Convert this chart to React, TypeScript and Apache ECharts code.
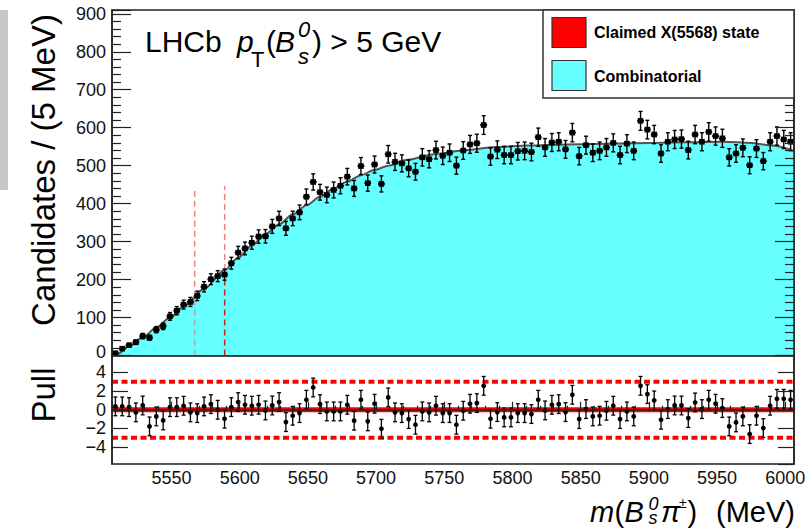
import React, { useEffect, useRef } from 'react';
import * as echarts from 'echarts';

// Histogram binning: threshold m(Bs0)+m(pi) up to +500 MeV, 5 MeV bins
const MASS_MIN = 5506.4;
const MASS_MAX = 6006.4;
const BIN_WIDTH = 5;

// Candidates per 5 MeV bin
const candidates = [
  6, 18, 27, 35, 51, 47, 68, 77, 103, 118,
  134, 141, 157, 181, 201, 209, 213, 243, 271, 282,
  297, 313, 314, 340, 361, 335, 361, 377, 418, 457,
  430, 423, 436, 447, 471, 440, 499, 454, 503, 452,
  530, 510, 506, 493, 484, 522, 517, 541, 526, 534,
  500, 540, 556, 559, 607, 524, 542, 528, 528, 538,
  539, 536, 575, 548, 561, 563, 543, 587, 525, 554,
  534, 539, 548, 560, 528, 558, 539, 618, 595, 582,
  532, 563, 569, 570, 541, 582, 563, 589, 578, 572,
  522, 532, 547, 501, 545, 512, 563, 578, 569, 563,
];

// Pull per bin
const pulls = [
  0.36, 0.36, 0.28, -0.28, 0.46, -1.78, -0.71, -1.14, 0.28, 0.28,
  0.43, -0.28, -0.36, 0.36, 0.6, 0.0, -0.96, 0.28, 0.82, 0.53,
  0.43, 0.53, -0.07, 0.46, 0.82, -1.32, -0.64, -0.36, 1.07, 2.38,
  0.6, -0.18, -0.18, -0.18, 0.53, -1.17, 1.07, -1.24, 0.64, -2.03,
  1.32, -0.28, -0.36, -1.0, -1.6, -0.18, -0.28, 0.43, -0.36, -0.36,
  -1.6, -0.11, 0.64, 0.71, 2.56, -0.96, -0.25, -0.82, -0.82, -0.36,
  -0.36, -0.46, 1.07, -0.07, 0.53, 0.6, -0.25, 1.6, -1.0, 0.07,
  -0.71, -0.64, -0.11, 0.43, -1.0, -0.18, -0.71, 2.56, 1.67, 1.0,
  -1.07, 0.07, 0.46, 0.46, -0.89, 0.78, 0.07, 1.07, 0.64, 0.18,
  -1.78, -1.35, -0.71, -2.6, -0.64, -1.96, 0.43, 1.17, 1.17, 1.07,
];
const PULL_ERROR = 1;

// Combinatorial fit curve
const fitMass = [5506.4, 5510, 5519, 5529, 5539, 5549, 5559, 5574, 5589, 5599, 5609, 5619, 5629, 5639, 5649, 5659, 5669, 5679, 5689, 5699, 5709, 5722, 5744, 5763, 5788, 5812, 5840, 5870, 5900, 5930, 5955, 5975, 5990, 6006.4];
const fitValue = [0, 3, 25, 48, 74, 100, 129, 176, 225, 258, 290, 320, 346, 372, 396, 418, 440, 458, 475, 489, 500, 515, 531, 540, 549, 553, 556, 558, 560, 562, 563, 560, 553, 539];

// Claimed X(5568) window markers
const claimedLineMass = [5567, 5589];
const claimedLineTop = [440, 447];
const claimedLineCross = [155, 225];

// Pull reference levels
const pullZero = 0;
const pullBand = [3, -3];

const FONT = '"Liberation Sans", Arial, Helvetica, sans-serif';
const AXIS = '#222';
const TXT = '#111';

function buildOption() {
  const binCenters = candidates.map((_, i) => MASS_MIN + BIN_WIDTH * (i + 0.5));
  const dataPoints = candidates.map((v, i) => [binCenters[i], v, Math.sqrt(v)]);
  const pullPoints = pulls.map((v, i) => [binCenters[i], v, PULL_ERROR]);

  const upperRender = (params: any, api: any) => {
    const x = api.value(0), y = api.value(1), e = api.value(2);
    const c = api.coord([x, y]);
    const t = api.coord([x, y + e]);
    const b = api.coord([x, y - e]);
    const l = api.coord([x - BIN_WIDTH / 2, y]);
    const r = api.coord([x + BIN_WIDTH / 2, y]);
    const st = { stroke: '#000', lineWidth: 1.4 };
    return {
      type: 'group',
      children: [
        { type: 'line', shape: { x1: c[0], y1: t[1], x2: c[0], y2: b[1] }, style: st },
        { type: 'line', shape: { x1: c[0] - 2, y1: t[1], x2: c[0] + 2, y2: t[1] }, style: st },
        { type: 'line', shape: { x1: c[0] - 2, y1: b[1], x2: c[0] + 2, y2: b[1] }, style: st },
        { type: 'line', shape: { x1: l[0], y1: c[1], x2: r[0], y2: c[1] }, style: { stroke: '#000', lineWidth: 2 } },
        { type: 'rect', shape: { x: c[0] - 2.8, y: c[1] - 2.8, width: 5.6, height: 5.6 }, style: { fill: '#000' } },
      ],
    };
  };

  const pullRender = (params: any, api: any) => {
    const x = api.value(0), y = api.value(1), e = api.value(2);
    const c = api.coord([x, y]);
    const t = api.coord([x, y + e]);
    const b = api.coord([x, y - e]);
    const st = { stroke: '#000', lineWidth: 1.3 };
    return {
      type: 'group',
      children: [
        { type: 'line', shape: { x1: c[0], y1: t[1], x2: c[0], y2: b[1] }, style: st },
        { type: 'line', shape: { x1: c[0] - 2, y1: t[1], x2: c[0] + 2, y2: t[1] }, style: st },
        { type: 'line', shape: { x1: c[0] - 2, y1: b[1], x2: c[0] + 2, y2: b[1] }, style: st },
        { type: 'circle', shape: { cx: c[0], cy: c[1], r: 2.4 }, style: { fill: '#000' } },
      ],
    };
  };

  const vLines: any[] = [];
  claimedLineMass.forEach((m, i) => {
    vLines.push({
      type: 'line', xAxisIndex: 0, yAxisIndex: 0, z: 4, silent: true, showSymbol: false,
      data: [[m, claimedLineCross[i]], [m, claimedLineTop[i]]],
      lineStyle: { color: '#f06060', width: 1.5, type: [6, 4], opacity: 0.8 },
    });
    vLines.push({
      type: 'line', xAxisIndex: 0, yAxisIndex: 0, z: 4, silent: true, showSymbol: false,
      data: [[m, 0], [m, claimedLineCross[i]]],
      lineStyle: { color: i === 0 ? '#a8a8a8' : '#c02020', width: 1.5, type: [6, 4] },
    });
  });

  const tickStyle = { color: AXIS, width: 1.2 };
  const labelBase = { fontFamily: FONT, fontSize: 18, color: TXT, lineHeight: 15 };
  const minus = (v: number) => (v < 0 ? '\u2212' + Math.abs(v) : String(v));

  const text = (t: string, x: number, y: number, size: number, opts: any = {}) => ({
    type: 'text', x, y, z: 20,
    style: {
      text: t, fill: '#000',
      font: `${opts.italic ? 'italic ' : ''}${opts.bold ? 'bold ' : ''}${size}px ${FONT}`,
      align: opts.align || 'left', verticalAlign: 'middle',
      ...(opts.lineHeight ? { lineHeight: opts.lineHeight } : {}),
    },
    ...(opts.rotation ? { rotation: opts.rotation } : {}),
  });

  return {
    animation: false,
    textStyle: { fontFamily: FONT },
    grid: [
      { left: 112, top: 10, width: 682, height: 345.5, show: true, borderColor: AXIS, borderWidth: 1.5, backgroundColor: '#fff' },
      { left: 112, top: 355.5, width: 682, height: 108.5, show: true, borderColor: AXIS, borderWidth: 1.5, backgroundColor: '#fff' },
    ],
    xAxis: [
      {
        gridIndex: 0, type: 'value', min: MASS_MIN, max: MASS_MAX, splitNumber: 10, z: 10,
        axisLine: { show: true, lineStyle: { color: AXIS, width: 1.5 } },
        axisTick: { show: false }, axisLabel: { show: false }, splitLine: { show: false },
      },
      {
        gridIndex: 1, type: 'value', min: MASS_MIN, max: MASS_MAX, splitNumber: 10, z: 10,
        axisLine: { show: true, lineStyle: { color: AXIS, width: 1.5 } },
        axisTick: { show: true, inside: true, length: 8, lineStyle: tickStyle },
        minorTick: { show: true, splitNumber: 5, length: 4, lineStyle: tickStyle },
        axisLabel: {
          ...labelBase, margin: 6, showMinLabel: false, showMaxLabel: false,
          formatter: (v: number) => (Math.abs(v % 50) < 1e-6 ? String(v) : ''),
        },
        splitLine: { show: false },
      },
    ],
    yAxis: [
      {
        gridIndex: 0, type: 'value', min: 0, max: 910, interval: 100, position: 'left', z: 10,
        axisLine: { show: true, lineStyle: { color: AXIS, width: 1.5 } },
        axisTick: { show: true, inside: true, length: 19, lineStyle: tickStyle },
        minorTick: { show: true, splitNumber: 5, length: 9, lineStyle: tickStyle },
        axisLabel: {
          ...labelBase, margin: 6,
          formatter: (v: number) => (v === 0 ? '{up|0}' : v <= 900 ? String(v) : ''),
          rich: { up: { fontFamily: FONT, fontSize: 18, color: TXT, padding: [0, 0, 8, 0] } },
        },
        splitLine: { show: false },
      },
      {
        gridIndex: 0, type: 'value', min: 0, max: 910, interval: 100, position: 'right', z: 10,
        axisLine: { show: true, lineStyle: { color: AXIS, width: 1.5 } },
        axisTick: { show: true, inside: true, length: 19, lineStyle: tickStyle },
        minorTick: { show: true, splitNumber: 5, length: 9, lineStyle: tickStyle },
        axisLabel: { show: false }, splitLine: { show: false },
      },
      {
        gridIndex: 1, type: 'value', min: -5.8, max: 5.8, splitNumber: 5, position: 'left', z: 10,
        axisLine: { show: true, lineStyle: { color: AXIS, width: 1.5 } },
        axisTick: { show: true, inside: true, length: 16, lineStyle: tickStyle },
        axisLabel: {
          ...labelBase, margin: 6, showMinLabel: false, showMaxLabel: false,
          formatter: (v: number) => (Math.abs(v) <= 4.01 ? minus(v) : ''),
        },
        splitLine: { show: false },
      },
      {
        gridIndex: 1, type: 'value', min: -5.8, max: 5.8, splitNumber: 5, position: 'right', z: 10,
        axisLine: { show: true, lineStyle: { color: AXIS, width: 1.5 } },
        axisTick: { show: true, inside: true, length: 16, lineStyle: tickStyle },
        axisLabel: { show: false }, splitLine: { show: false },
      },
    ],
    series: [
      {
        name: 'Combinatorial', type: 'line', xAxisIndex: 0, yAxisIndex: 0, z: 2,
        data: fitMass.map((m, i) => [m, fitValue[i]]),
        smooth: 0.3, smoothMonotone: 'x', showSymbol: false, silent: true,
        lineStyle: { color: '#555', width: 2 },
        areaStyle: { color: '#66ffff', opacity: 1 },
      },
      ...vLines,
      {
        name: 'Data', type: 'custom', xAxisIndex: 0, yAxisIndex: 0, z: 6,
        renderItem: upperRender, data: dataPoints,
      },
      {
        type: 'line', xAxisIndex: 1, yAxisIndex: 2, z: 3, showSymbol: false, silent: true,
        data: [[MASS_MIN, pullZero], [MASS_MAX, pullZero]],
        lineStyle: { color: '#ff0000', width: 5 },
      },
      ...pullBand.map((b) => ({
        type: 'line', xAxisIndex: 1, yAxisIndex: 2, z: 3, showSymbol: false, silent: true,
        data: [[MASS_MIN, b], [MASS_MAX, b]],
        lineStyle: { color: '#ff0000', width: 4, type: [6, 3.5] },
      })),
      {
        name: 'Pull', type: 'custom', xAxisIndex: 1, yAxisIndex: 2, z: 6,
        renderItem: pullRender, data: pullPoints,
      },
    ],
    graphic: [
      { type: 'rect', shape: { x: 0, y: 10, width: 8, height: 180 }, style: { fill: '#c8c8c8' }, z: 1 },
      { type: 'rect', shape: { x: 543, y: 10, width: 251, height: 88 }, style: { fill: '#fff', stroke: '#333', lineWidth: 1.5 }, z: 15 },
      { type: 'rect', shape: { x: 552, y: 17.5, width: 34, height: 30 }, style: { fill: '#ff0000', stroke: '#333', lineWidth: 1.2 }, z: 16 },
      { type: 'rect', shape: { x: 552, y: 60.5, width: 34, height: 30 }, style: { fill: '#66ffff', stroke: '#333', lineWidth: 1.2 }, z: 16 },
      text('Claimed X(5568) state', 594, 32, 16, { bold: true }),
      text('Combinatorial', 594, 76, 16, { bold: true }),
      // LHCb label
      text('LHCb', 145, 41.2, 30),
      text('p', 237, 41.2, 30, { italic: true }),
      text('T', 251, 59, 22),
      text('(', 266, 41.2, 30),
      text('B', 275, 41.2, 30, { italic: true }),
      text('0\ns', 298, 43, 22, { italic: true, lineHeight: 27 }),
      text(') > 5 GeV', 312, 41.2, 30),
      // axis titles
      text('Candidates / (5 MeV)', 43.5, 170, 33, { align: 'center', rotation: Math.PI / 2 }),
      text('Pull', 43.5, 395, 33, { align: 'center', rotation: Math.PI / 2 }),
      text('m', 590, 511.6, 29, { italic: true }),
      text('(', 614.5, 511.6, 29),
      text('B', 624.5, 511.6, 29, { italic: true }),
      text('0\ns', 648.5, 511, 18, { italic: true, lineHeight: 14 }),
      text('\u03c0', 661, 511.6, 29, { italic: true }),
      text('\u00b1', 679, 503, 14),
      text(')', 687.5, 511.6, 29),
      text('(MeV)', 795, 511.6, 29, { align: 'right' }),
    ],
  };
}

export default function App() {
  const ref = useRef<HTMLDivElement>(null);
  useEffect(() => {
    if (!ref.current) return;
    const chart = echarts.init(ref.current, undefined, { renderer: 'svg' });
    chart.setOption(buildOption() as any);
    return () => chart.dispose();
  }, []);
  return (
    <div
      ref={ref}
      style={{ position: 'absolute', left: 0, top: 0, width: 810, height: 529, background: '#fff' }}
    />
  );
}
